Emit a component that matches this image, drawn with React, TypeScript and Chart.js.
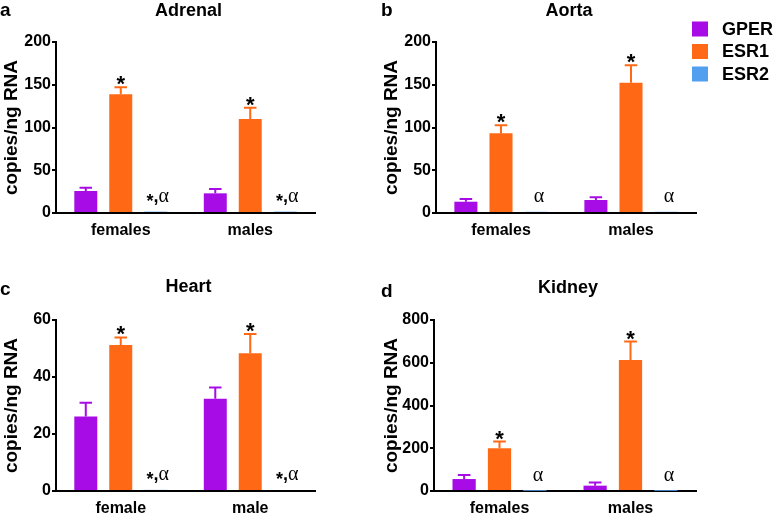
import React, { useEffect, useRef } from 'react';
import { Chart, registerables } from 'chart.js';

Chart.register(...registerables);

const SANS = '"Liberation Sans", Arial, Helvetica, sans-serif';
const SERIF = '"Liberation Serif", "Times New Roman", serif';
Chart.defaults.font.family = SANS;

const SERIES = ['GPER', 'ESR1', 'ESR2'];
const COLORS = ['#A70CE6', '#FF6814', '#529FF0'];
const Y_TITLE = 'copies/ng RNA';

// Panel a: Adrenal
const adrenalCats = ['females', 'males'];
const adrenalGPER = [25.7, 23];
const adrenalGPERErr = [3.9, 5];
const adrenalESR1 = [138.8, 110];
const adrenalESR1Err = [8.2, 13];
const adrenalESR2 = [1.6, 1.6];
const adrenalESR2Err = [0, 0];
const adrenalTicks = { max: 200, step: 50 };

// Panel b: Aorta
const aortaCats = ['females', 'males'];
const aortaGPER = [13.2, 15.2];
const aortaGPERErr = [3.2, 3.1];
const aortaESR1 = [93.2, 152.4];
const aortaESR1Err = [9.3, 20.4];
const aortaESR2 = [1.4, 1.4];
const aortaESR2Err = [0, 0];
const aortaTicks = { max: 200, step: 50 };

// Panel c: Heart
const heartCats = ['female', 'male'];
const heartGPER = [26.1, 32.4];
const heartGPERErr = [4.9, 3.9];
const heartESR1 = [51.2, 48.3];
const heartESR1Err = [2.7, 6.8];
const heartESR2 = [0.4, 0.35];
const heartESR2Err = [0, 0];
const heartTicks = { max: 60, step: 20 };

// Panel d: Kidney
const kidneyCats = ['females', 'males'];
const kidneyGPER = [56, 25];
const kidneyGPERErr = [19, 15];
const kidneyESR1 = [200, 613];
const kidneyESR1Err = [31, 86];
const kidneyESR2 = [1, 1];
const kidneyESR2Err = [0, 0];
const kidneyTicks = { max: 800, step: 200 };

// significance marks per series / category
const marksStarAlpha = [['', ''], ['*', '*'], ['*,α', '*,α']];
const marksAlpha = [['', ''], ['*', '*'], ['α', 'α']];

const decorPlugin = {
  id: 'panelDecor',
  afterDatasetsDraw(chart: any, _args: any, opts: any) {
    const ctx = chart.ctx;
    const y = chart.scales.y;
    const area = chart.chartArea;
    ctx.save();
    chart.data.datasets.forEach((ds: any, di: number) => {
      const meta = chart.getDatasetMeta(di);
      meta.data.forEach((bar: any, i: number) => {
        const v = ds.data[i] as number;
        const e = opts.errs[di][i] as number;
        const topY = y.getPixelForValue(v + e);
        if (e > 0) {
          ctx.strokeStyle = COLORS[di];
          ctx.lineWidth = 2;
          ctx.lineCap = 'butt';
          ctx.beginPath();
          ctx.moveTo(bar.x, bar.y);
          ctx.lineTo(bar.x, topY);
          ctx.moveTo(bar.x - bar.width / 4 - 0.5, topY);
          ctx.lineTo(bar.x + bar.width / 4 + 0.5, topY);
          ctx.stroke();
        }
        const m = opts.marks[di][i];
        ctx.fillStyle = '#000';
        ctx.textBaseline = 'alphabetic';
        if (m === '*') {
          ctx.font = `bold 22px ${SANS}`;
          ctx.textAlign = 'center';
          ctx.fillText('*', bar.x, topY + 4);
        } else if (m) {
          const base = bar.y - 10;
          const parts = m.split(',');
          if (parts.length === 2) {
            ctx.font = `bold 18px ${SANS}`;
            const ws = ctx.measureText('*').width;
            const wc = ctx.measureText(',').width;
            ctx.font = `20px ${SERIF}`;
            const wa = ctx.measureText('α').width;
            let x = bar.x + 2 - (ws + wc + wa) / 2;
            ctx.textAlign = 'left';
            ctx.font = `bold 18px ${SANS}`;
            ctx.fillText('*', x, base + 5);
            x += ws;
            ctx.fillText(',', x, base);
            x += wc;
            ctx.font = `20px ${SERIF}`;
            ctx.fillText('α', x, base);
          } else {
            ctx.font = `20px ${SERIF}`;
            ctx.textAlign = 'center';
            ctx.fillText(m, bar.x + 3, base);
          }
        }
      });
    });
    // title & panel letter
    ctx.fillStyle = '#000';
    ctx.textBaseline = 'alphabetic';
    ctx.textAlign = 'center';
    ctx.font = `bold 18px ${SANS}`;
    ctx.fillText(opts.title, (area.left + area.right) / 2 + 3, opts.titleY);
    ctx.textAlign = 'left';
    ctx.font = `bold 19px ${SANS}`;
    ctx.fillText(opts.letter, opts.letterX, opts.letterY);
    // legend
    if (opts.legend) {
      const lg = opts.legend;
      chart.data.datasets.forEach((ds: any, di: number) => {
        const cy = lg.y + di * lg.gap;
        ctx.fillStyle = ds.backgroundColor;
        ctx.fillRect(lg.x, cy - 7.5, 16, 15);
        ctx.fillStyle = '#000';
        ctx.font = `bold 18px ${SANS}`;
        ctx.textBaseline = 'middle';
        ctx.textAlign = 'left';
        ctx.fillText(ds.label, lg.x + 30, cy + 1);
      });
    }
    ctx.restore();
  },
};

type PanelProps = {
  left: number; top: number; width: number; height: number;
  area: { left: number; right: number; top: number; bottom: number };
  letter: string; letterX: number; letterY: number;
  title: string; titleY: number;
  cats: string[]; values: number[][]; errs: number[][]; marks: string[][];
  ticks: { max: number; step: number };
  legend?: { x: number; y: number; gap: number };
};

function Panel(p: PanelProps) {
  const ref = useRef<HTMLCanvasElement>(null);
  useEffect(() => {
    const chart = new Chart(ref.current as HTMLCanvasElement, {
      type: 'bar',
      data: {
        labels: p.cats,
        datasets: SERIES.map((s, i) => ({
          label: s,
          data: p.values[i],
          backgroundColor: COLORS[i],
          borderWidth: 0,
          categoryPercentage: 0.81,
          barPercentage: 0.657,
        })),
      },
      options: {
        responsive: false,
        animation: false,
        events: [],
        layout: { padding: { left: 0, top: p.area.top, right: p.width - p.area.right, bottom: 0 } },
        plugins: {
          legend: { display: false },
          tooltip: { enabled: false },
          panelDecor: {
            errs: p.errs, marks: p.marks, title: p.title, titleY: p.titleY,
            letter: p.letter, letterX: p.letterX, letterY: p.letterY, legend: p.legend,
          },
        } as any,
        scales: {
          x: {
            grid: { display: false, drawTicks: false },
            border: { display: true, color: '#000', width: 2 },
            ticks: { color: '#000', font: { size: 16, weight: 'bold' }, padding: 8 },
            afterFit: (s: any) => { s.height = p.height - p.area.bottom; },
          },
          y: {
            min: 0,
            max: p.ticks.max,
            ticks: { stepSize: p.ticks.step, color: '#000', font: { size: 16, weight: 'bold' }, padding: 1 },
            grid: { drawOnChartArea: false, drawTicks: true, tickLength: 4, color: '#000', lineWidth: 2 },
            border: { display: true, color: '#000', width: 2 },
            title: { display: true, text: Y_TITLE, color: '#000', font: { size: 19, weight: 'bold' }, padding: { top: 0, bottom: 0 } },
            afterFit: (s: any) => { s.width = p.area.left; },
          },
        } as any,
      },
      plugins: [decorPlugin],
    });
    return () => chart.destroy();
  }, []);
  return (
    <canvas
      ref={ref}
      width={p.width}
      height={p.height}
      style={{ position: 'absolute', left: p.left, top: p.top, width: p.width, height: p.height }}
    />
  );
}

export default function App() {
  return (
    <div style={{ position: 'fixed', left: 0, top: 0, width: 778, height: 514, background: '#fff', overflow: 'hidden' }}>
      <Panel
        left={0} top={0} width={380} height={257}
        area={{ left: 56, right: 315, top: 42, bottom: 213 }}
        letter="a" letterX={0} letterY={16} title="Adrenal" titleY={16}
        cats={adrenalCats}
        values={[adrenalGPER, adrenalESR1, adrenalESR2]}
        errs={[adrenalGPERErr, adrenalESR1Err, adrenalESR2Err]}
        marks={marksStarAlpha} ticks={adrenalTicks}
      />
      <Panel
        left={380} top={0} width={398} height={257}
        area={{ left: 56, right: 316, top: 42, bottom: 213 }}
        letter="b" letterX={1} letterY={16} title="Aorta" titleY={16}
        cats={aortaCats}
        values={[aortaGPER, aortaESR1, aortaESR2]}
        errs={[aortaGPERErr, aortaESR1Err, aortaESR2Err]}
        marks={marksAlpha} ticks={aortaTicks}
        legend={{ x: 312, y: 29, gap: 22.5 }}
      />
      <Panel
        left={0} top={257} width={380} height={257}
        area={{ left: 56, right: 315, top: 63, bottom: 234 }}
        letter="c" letterX={0} letterY={38} title="Heart" titleY={35}
        cats={heartCats}
        values={[heartGPER, heartESR1, heartESR2]}
        errs={[heartGPERErr, heartESR1Err, heartESR2Err]}
        marks={marksStarAlpha} ticks={heartTicks}
      />
      <Panel
        left={380} top={257} width={398} height={257}
        area={{ left: 54, right: 316, top: 63, bottom: 234 }}
        letter="d" letterX={1} letterY={40} title="Kidney" titleY={36}
        cats={kidneyCats}
        values={[kidneyGPER, kidneyESR1, kidneyESR2]}
        errs={[kidneyGPERErr, kidneyESR1Err, kidneyESR2Err]}
        marks={marksAlpha} ticks={kidneyTicks}
      />
    </div>
  );
}
